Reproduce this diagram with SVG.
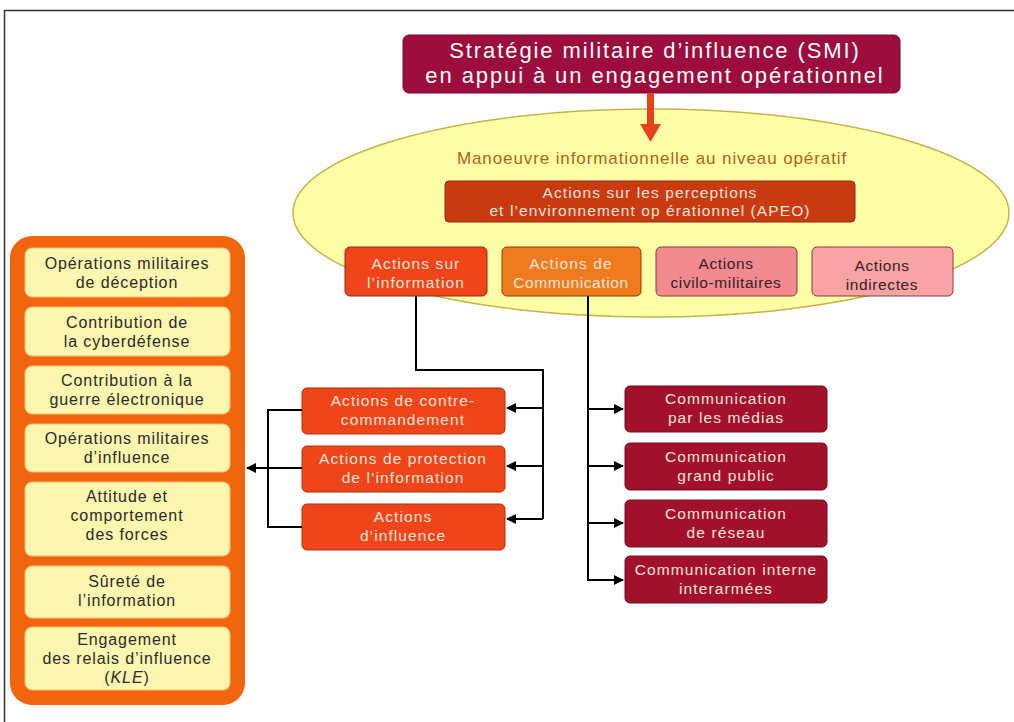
<svg xmlns="http://www.w3.org/2000/svg" width="1014" height="722" viewBox="0 0 1014 722">
<defs>
<marker id="ah" viewBox="0 0 10 10" refX="9" refY="5" markerWidth="5" markerHeight="5" orient="auto"><path d="M0,0 L10,5 L0,10 z" fill="#000"/></marker>
<style>
text{font-family:"Liberation Sans",Arial,sans-serif;text-anchor:middle}
.lt{fill:#ffe6d6;font-size:15.5px;letter-spacing:1.1px}
.dk{fill:#3a2020;font-size:15.5px;letter-spacing:0.6px}
.yl{fill:#2a2a2a;font-size:16px;letter-spacing:0.9px}
.con{fill:none;stroke:#000;stroke-width:2}
.item{fill:#fdf6ae;stroke:#f3c070;stroke-width:1}
.red{fill:#f0441a;stroke:#b03010;stroke-width:1}
.crim{fill:#a3102e;stroke:#701020;stroke-width:1}
</style>
</defs>
<rect width="1014" height="722" fill="#fff"/>
<path d="M4.5,722 V10.5 H1014" fill="none" stroke="#333" stroke-width="1.5"/>

<g id="title">
<rect x="403" y="35" width="497" height="58" rx="6" fill="#9c0c3c" stroke="#7a0830"/>
<text x="655" y="58" style="fill:#fff;font-size:22px;letter-spacing:1.9px">Stratégie militaire d’influence (SMI)</text>
<text x="655" y="83" style="fill:#fff;font-size:22px;letter-spacing:1.9px">en appui à un engagement opérationnel</text>
</g>

<g id="maneuver">
<ellipse cx="651" cy="213" rx="358" ry="104" fill="#ffffa6" stroke="#c9b24a" stroke-width="1.5"/>
<text x="652" y="164" style="fill:#b3601e;font-size:17px;letter-spacing:0.9px">Manoeuvre informationnelle au niveau opératif</text>
</g>

<g id="title-arrow">
<rect x="647" y="93" width="7" height="32" fill="#e8421c"/>
<path d="M640,124 L661,124 L650.5,142 z" fill="#e8421c"/>
</g>

<g id="apeo">
<rect x="445" y="181" width="410" height="41" rx="4" fill="#c93a10" stroke="#8a2a10"/>
<text x="650" y="198" class="lt">Actions sur les perceptions</text>
<text x="650" y="216" class="lt">et l’environnement op érationnel (APEO)</text>
</g>

<g id="info">
<rect x="345" y="247" width="142" height="49" rx="5" fill="#f0441a" stroke="#8a2a10"/>
<text x="416" y="269" class="lt">Actions sur</text>
<text x="416" y="288" class="lt">l’information</text>
</g>
<g id="comm">
<rect x="502" y="247" width="139" height="49" rx="5" fill="#f07a20" stroke="#8a3a10"/>
<text x="571" y="269" class="lt">Actions de</text>
<text x="571" y="288" class="lt" style="letter-spacing:0.6px">Communication</text>
</g>
<g id="civmil">
<rect x="656" y="247" width="141" height="49" rx="5" fill="#f28a92" stroke="#8a3a3a"/>
<text x="726" y="269" class="dk">Actions</text>
<text x="726" y="288" class="dk">civilo-militaires</text>
</g>
<g id="indirect">
<rect x="812" y="247" width="141" height="49" rx="5" fill="#f8a4a6" stroke="#8a3a3a"/>
<text x="882" y="271" class="dk">Actions</text>
<text x="882" y="290" class="dk">indirectes</text>
</g>

<g id="contre">
<rect x="302" y="388" width="203" height="46" rx="5" class="red"/>
<text x="403" y="406" class="lt">Actions de contre-</text>
<text x="403" y="425" class="lt">commandement</text>
</g>
<g id="protection">
<rect x="302" y="446" width="203" height="46" rx="5" class="red"/>
<text x="403" y="464" class="lt">Actions de protection</text>
<text x="403" y="483" class="lt">de l’information</text>
</g>
<g id="influence">
<rect x="302" y="504" width="203" height="46" rx="5" class="red"/>
<text x="403" y="522" class="lt">Actions</text>
<text x="403" y="541" class="lt">d’influence</text>
</g>

<g id="medias">
<rect x="625" y="386" width="202" height="46" rx="5" class="crim"/>
<text x="726" y="404" class="lt">Communication</text>
<text x="726" y="423" class="lt">par les médias</text>
</g>
<g id="public">
<rect x="625" y="443" width="202" height="47" rx="5" class="crim"/>
<text x="726" y="462" class="lt">Communication</text>
<text x="726" y="481" class="lt">grand public</text>
</g>
<g id="reseau">
<rect x="625" y="500" width="202" height="47" rx="5" class="crim"/>
<text x="726" y="519" class="lt">Communication</text>
<text x="726" y="538" class="lt">de réseau</text>
</g>
<g id="interne">
<rect x="625" y="556" width="202" height="47" rx="5" class="crim"/>
<text x="726" y="575" class="lt">Communication interne</text>
<text x="726" y="594" class="lt">interarmées</text>
</g>

<g id="container">
<rect x="10" y="236" width="235" height="469" rx="22" fill="#f2650f"/>
</g>
<g id="deception">
<rect x="25" y="248" width="205" height="49" rx="7" class="item"/>
<text x="127" y="269" class="yl">Opérations militaires</text>
<text x="127" y="288" class="yl">de déception</text>
</g>
<g id="cyber">
<rect x="25" y="307" width="205" height="49" rx="7" class="item"/>
<text x="127" y="328" class="yl">Contribution de</text>
<text x="127" y="347" class="yl">la cyberdéfense</text>
</g>
<g id="guerre">
<rect x="25" y="366" width="205" height="48" rx="7" class="item"/>
<text x="127" y="386" class="yl">Contribution à la</text>
<text x="127" y="405" class="yl">guerre électronique</text>
</g>
<g id="omi">
<rect x="25" y="424" width="205" height="48" rx="7" class="item"/>
<text x="127" y="444" class="yl">Opérations militaires</text>
<text x="127" y="463" class="yl">d’influence</text>
</g>
<g id="attitude">
<rect x="25" y="482" width="205" height="74" rx="7" class="item"/>
<text x="127" y="502" class="yl">Attitude et</text>
<text x="127" y="521" class="yl">comportement</text>
<text x="127" y="540" class="yl">des forces</text>
</g>
<g id="surete">
<rect x="25" y="566" width="205" height="52" rx="7" class="item"/>
<text x="127" y="587" class="yl">Sûreté de</text>
<text x="127" y="606" class="yl">l’information</text>
</g>
<g id="kle">
<rect x="25" y="627" width="205" height="63" rx="7" class="item"/>
<text x="127" y="645" class="yl">Engagement</text>
<text x="127" y="664" class="yl">des relais d’influence</text>
<text x="127" y="683" class="yl">(<tspan font-style="italic">KLE</tspan>)</text>
</g>

<g id="connectors">
<path class="con" d="M416,296 V370 H543 V519"/>
<path class="con" d="M543,408 H507" marker-end="url(#ah)"/>
<path class="con" d="M543,466 H507" marker-end="url(#ah)"/>
<path class="con" d="M543,519 H507" marker-end="url(#ah)"/>
<path class="con" d="M302,410 H268 V527 H302"/>
<path class="con" d="M302,468 H268"/>
<path class="con" d="M268,468 H247" marker-end="url(#ah)"/>
<path class="con" d="M588,296 V580"/>
<path class="con" d="M588,409 H623" marker-end="url(#ah)"/>
<path class="con" d="M588,466 H623" marker-end="url(#ah)"/>
<path class="con" d="M588,523 H623" marker-end="url(#ah)"/>
<path class="con" d="M587,580 H623" marker-end="url(#ah)"/>
</g>
</svg>
